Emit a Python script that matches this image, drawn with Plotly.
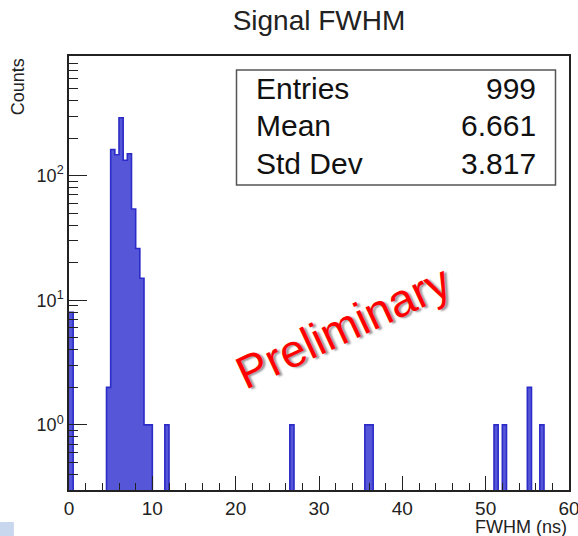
import numpy as np
import plotly.graph_objects as go

# Histogram definition: 120 bins of 0.5 ns from 0 to 60 ns
x_min, x_max, bin_width = 0.0, 60.0, 0.5

# Non-empty bins (left edge in ns) and their counts
bin_left = [0.0, 4.5, 5.0, 5.5, 6.0, 6.5, 7.0, 7.5, 8.0, 8.5, 9.0, 9.5,
            11.5, 26.5, 35.5, 36.0, 51.0, 52.0, 55.0, 56.5]
bin_counts = [8, 2, 162, 147, 291, 133, 150, 54, 26, 15, 1, 1,
              1, 1, 1, 1, 1, 1, 2, 1]

# Statistics box contents
stat_names = ["Entries", "Mean", "Std Dev"]
stat_values = ["999", "6.661", "3.817"]

x_ticks = [0, 10, 20, 30, 40, 50, 60]
y_ticks = [1, 10, 100]
y_tick_text = ["10<sup>0</sup>", "10<sup>1</sup>", "10<sup>2</sup>"]

# Fill the full bin array
n_bins = int(round((x_max - x_min) / bin_width))
edges = x_min + bin_width * np.arange(n_bins + 1)
counts = np.zeros(n_bins)
for lo, c in zip(bin_left, bin_counts):
    counts[int(round((lo - x_min) / bin_width))] = c
centers = edges[:-1] + bin_width / 2

FONT = "Liberation Sans, Arial, sans-serif"
FILL = "rgb(86,86,216)"
EDGE = "rgb(44,44,200)"
INK = "#222222"

fig = go.Figure()

# Filled bins
fig.add_trace(go.Bar(
    x=centers,
    y=[c if c > 0 else None for c in counts],
    width=bin_width,
    marker=dict(color=FILL, line=dict(width=0)),
    hoverinfo="x+y",
    showlegend=False,
))

# Step outline of the histogram; empty bins drop below the visible range
floor = 1e-3
step_y = np.append(np.where(counts > 0, counts, floor), floor)
fig.add_trace(go.Scatter(
    x=edges,
    y=step_y,
    mode="lines",
    line=dict(color=EDGE, width=1.6, shape="hv"),
    hoverinfo="skip",
    showlegend=False,
))

fig.update_layout(
    width=578,
    height=536,
    margin=dict(l=69, r=9, t=56, b=46, autoexpand=False),
    paper_bgcolor="white",
    plot_bgcolor="white",
    bargap=0,
    font=dict(family=FONT, color=INK),
    title=dict(
        text="Signal FWHM",
        x=0.5, xref="paper", xanchor="center",
        y=1 - 20 / 536, yref="container", yanchor="middle",
        font=dict(size=28, color=INK, family=FONT),
    ),
)

fig.update_xaxes(
    range=[x_min, x_max],
    tickvals=x_ticks,
    automargin=False,
    ticklabeloverflow="allow",
    ticks="inside", ticklen=14, tickwidth=1.3, tickcolor=INK,
    minor=dict(dtick=2, ticks="inside", ticklen=7, tickwidth=1.3, tickcolor=INK),
    showline=True, linecolor=INK, linewidth=1.5, mirror=True,
    showgrid=False, zeroline=False,
    tickfont=dict(size=19, color=INK, family=FONT),
)

fig.update_yaxes(
    type="log",
    range=[np.log10(0.3), 2.96],
    tickvals=y_ticks, ticktext=y_tick_text,
    automargin=False,
    ticklabeloverflow="allow",
    ticks="inside", ticklen=18, tickwidth=1.3, tickcolor=INK,
    minor=dict(dtick="D1", ticks="inside", ticklen=9, tickwidth=1.3, tickcolor=INK),
    showline=True, linecolor=INK, linewidth=1.5, mirror=True,
    showgrid=False, zeroline=False,
    tickfont=dict(size=18, color=INK, family=FONT),
)

# Axis titles, ROOT style (right / top aligned)
fig.add_annotation(
    text="FWHM (ns)", xref="paper", yref="paper",
    x=1.0, y=-0.0855, xanchor="right", yanchor="middle",
    showarrow=False, font=dict(size=18, color=INK, family=FONT),
)
fig.add_annotation(
    text="Counts", xref="paper", yref="paper",
    x=-0.103, y=0.929, xanchor="center", yanchor="middle", textangle=-90,
    showarrow=False, font=dict(size=18, color=INK, family=FONT),
)

# Statistics box
fig.add_shape(
    type="rect", xref="paper", yref="paper",
    x0=0.335, x1=0.973, y0=0.703, y1=0.968,
    line=dict(color="#555555", width=1.5), fillcolor="white", layer="above",
)
row_y = [0.926, 0.839, 0.753]
for name, val, yy in zip(stat_names, stat_values, row_y):
    fig.add_annotation(
        text=name, xref="paper", yref="paper", x=0.37, y=yy,
        xanchor="left", yanchor="middle", showarrow=False,
        font=dict(size=30, color="#111111", family=FONT),
    )
    fig.add_annotation(
        text=val, xref="paper", yref="paper", x=0.937, y=yy,
        xanchor="right", yanchor="middle", showarrow=False,
        font=dict(size=30, color="#111111", family=FONT),
    )

# Watermark
fig.add_annotation(
    text="Preliminary", xref="paper", yref="paper",
    x=0.548, y=0.376, xanchor="center", yanchor="middle",
    textangle=-25, showarrow=False,
    font=dict(size=46, color="#ff0000", family=FONT, shadow="2px 2px 2px #999999"),
)

# Small light-blue patch in the lower-left corner
fig.add_shape(
    type="rect", xref="paper", yref="paper",
    x0=-69 / 499, x1=-55 / 499, y0=-46 / 434, y1=-32 / 434,
    line=dict(width=0), fillcolor="#c9d7ee", layer="above",
)

fig.write_html("out.html")
